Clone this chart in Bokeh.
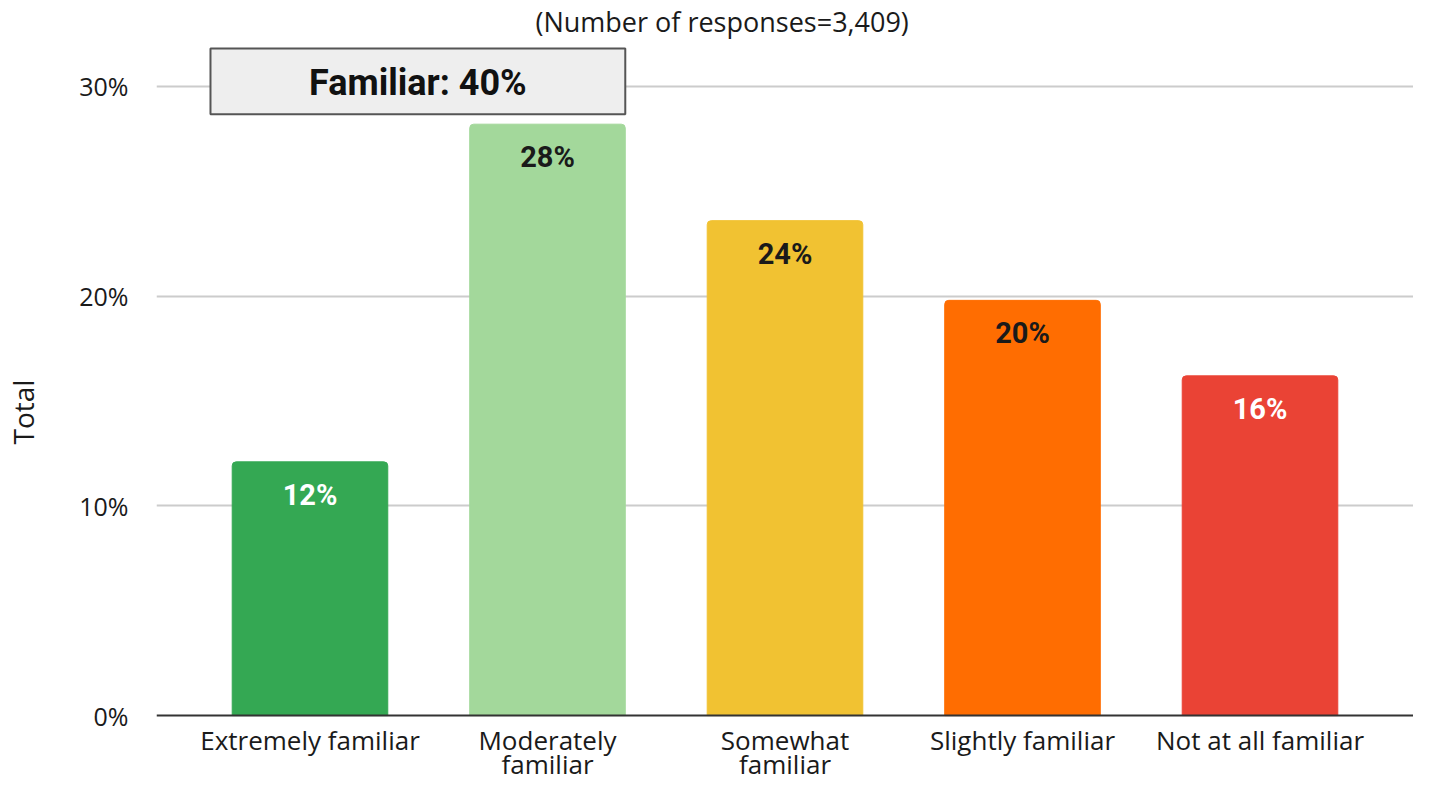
from bokeh.plotting import figure
from bokeh.models import (ColumnDataSource, FactorRange, FixedTicker, Label,
                          BoxAnnotation, Span, CustomJSTickFormatter)
from bokeh.core.properties import value
from bokeh.embed import file_html
from bokeh.resources import INLINE

categories = ["Extremely familiar", "Moderately familiar", "Somewhat familiar",
              "Slightly familiar", "Not at all familiar"]
tick_labels = ["Extremely familiar", "Moderately\nfamiliar", "Somewhat\nfamiliar",
               "Slightly familiar", "Not at all familiar"]
values = [12.1, 28.2, 23.6, 19.8, 16.2]
bar_colors = ["#34a853", "#a3d89b", "#f1c232", "#ff6d01", "#ea4335"]
label_colors = ["#ffffff", "#1a1a1a", "#1a1a1a", "#1a1a1a", "#ffffff"]
y_ticks = [0, 10, 20, 30]
title_text = "(Number of responses=3,409)"
y_label = "Total"
familiar_total = round(values[0] + values[1])

BAR_W = 0.655
FONT = "Open Sans"

src = ColumnDataSource(dict(
    cat=categories, val=values, color=bar_colors, lcolor=label_colors,
    txt=[f"{round(v)}%" for v in values],
))
lines = [t.split("\n") for t in tick_labels]
lab1 = ColumnDataSource(dict(cat=categories, txt=[l[0] for l in lines]))
lab2 = ColumnDataSource(dict(cat=[c for c, l in zip(categories, lines) if len(l) > 1],
                             txt=[l[1] for l in lines if len(l) > 1]))

xr = FactorRange(*categories, range_padding=0.1463, range_padding_units="absolute")
p = figure(x_range=xr, y_range=(-3.286, 32.238), width=1413, height=784,
           output_backend="svg", toolbar_location=None,
           min_border_left=156, min_border_right=0, min_border_top=38,
           min_border_bottom=0, title=title_text)

p.title.align = "left"
p.title.offset = 535 - 156
p.title.text_font = FONT
p.title.text_font_size = "27px"
p.title.text_font_style = "normal"
p.title.text_color = "#1a1a1a"
p.title.standoff = 0

p.outline_line_color = None
p.background_fill_color = "white"

# bars
p.vbar(x="cat", top="val", width=BAR_W, color="color", source=src,
       border_radius=(4, 4, 0, 0))

# value labels
p.text(x="cat", y="val", text="txt", text_color="lcolor", source=src,
       text_font=value("Roboto"), text_font_style="bold", text_font_size="29px",
       text_align="center", text_baseline="middle", y_offset=33)

# category labels (drawn under the baseline)
p.text(x="cat", y=0, text="txt", source=lab1, text_color="#1a1a1a",
       text_font=value(FONT), text_font_size="26px",
       text_align="center", text_baseline="alphabetic", y_offset=24)
p.text(x="cat", y=0, text="txt", source=lab2, text_color="#1a1a1a",
       text_font=value(FONT), text_font_size="26px",
       text_align="center", text_baseline="alphabetic", y_offset=48)

# grid and axes
p.xgrid.grid_line_color = None
p.ygrid.grid_line_color = "#cccccc"
p.ygrid.grid_line_width = 2
p.ygrid.ticker = FixedTicker(ticks=y_ticks[1:])
p.xaxis.visible = False
p.add_layout(Span(location=0, dimension="width", line_color="#333333", line_width=2))

p.yaxis.ticker = FixedTicker(ticks=y_ticks)
p.yaxis.formatter = CustomJSTickFormatter(code="return tick + '%';")
p.yaxis.axis_line_color = None
p.yaxis.major_tick_line_color = None
p.yaxis.minor_tick_line_color = None
p.yaxis.major_label_standoff = 22
p.yaxis.major_label_text_font = FONT
p.yaxis.major_label_text_font_size = "25px"
p.yaxis.major_label_text_color = "#1a1a1a"
p.yaxis.axis_label = y_label
p.yaxis.axis_label_text_font = FONT
p.yaxis.axis_label_text_font_size = "28px"
p.yaxis.axis_label_text_font_style = "normal"
p.yaxis.axis_label_text_color = "#1a1a1a"
p.yaxis.axis_label_standoff = 34

# "Familiar" summary box
box_left = 0.081
box_right = 1.5 + BAR_W / 2
p.add_layout(BoxAnnotation(left=box_left, right=box_right, bottom=28.67, top=31.81,
                           fill_color="#eeeeee", fill_alpha=1,
                           line_color="#555555", line_alpha=1, line_width=2))
p.add_layout(Label(x=(box_left + box_right) / 2, y=30.14,
                   text=f"Familiar: {familiar_total}%",
                   text_align="center", text_baseline="middle",
                   text_font="Roboto", text_font_style="bold", text_font_size="36px",
                   text_color="#111111"))

open("out.html", "w").write(file_html(p, INLINE))
